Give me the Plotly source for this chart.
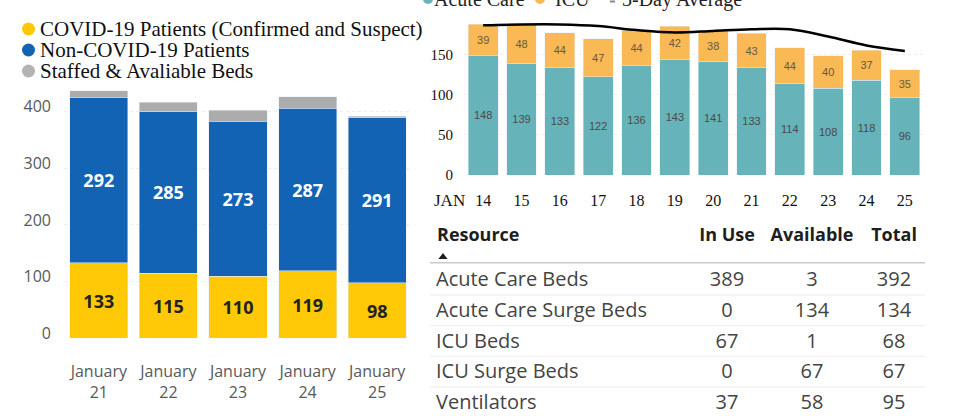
import plotly.graph_objects as go

# ---------------- data ----------------
left_days = ["January<br>21", "January<br>22", "January<br>23", "January<br>24", "January<br>25"]
covid_pts = [133, 115, 110, 119, 98]
noncovid_pts = [292, 285, 273, 287, 291]
staffed_avail = [12, 16, 19, 20, 3]

right_days = ["14", "15", "16", "17", "18", "19", "20", "21", "22", "23", "24", "25"]
acute_care = [148, 139, 133, 122, 136, 143, 141, 133, 114, 108, 118, 96]
icu = [39, 48, 44, 47, 44, 42, 38, 43, 44, 40, 37, 35]
avg_3day = [186, 187, 187, 185, 180, 177, 179, 181, 181, 172, 161, 154]

table_header = ["Resource", "In Use", "Available", "Total"]
resources = ["Acute Care Beds", "Acute Care Surge Beds", "ICU Beds", "ICU Surge Beds", "Ventilators"]
in_use = [389, 0, 67, 0, 37]
available = [3, 134, 1, 67, 58]
total = [392, 134, 68, 67, 95]

left_legend = ["COVID-19 Patients (Confirmed and Suspect)", "Non-COVID-19 Patients", "Staffed &amp; Avaliable Beds"]
right_legend = ["Acute Care", "ICU", "3-Day Average"]

# ---------------- style ----------------
W, H = 976, 416
YELLOW = "#ffc907"
BLUE = "#1363b5"
GRAY = "#acacac"
TEAL = "#66b4ba"
ORANGE = "#f9b955"
SANS = "Open Sans, sans-serif"
SERIF = "Liberation Serif, serif"

def px_x(p):
    return p / W

def px_y(p):
    return 1 - p / H

fig = go.Figure()

# ---- left stacked bars ----
fig.add_trace(go.Bar(x=left_days, y=covid_pts, marker_color=YELLOW, texttemplate="%{y}",
                     textposition="inside", insidetextanchor="middle", textangle=0,
                     textfont=dict(family=SANS, size=18, color="#222222", weight="bold"),
                     constraintext="none", xaxis="x", yaxis="y", showlegend=False, width=0.835))
fig.add_trace(go.Bar(x=left_days, y=noncovid_pts, marker_color=BLUE, texttemplate="%{y}",
                     textposition="inside", insidetextanchor="middle", textangle=0,
                     textfont=dict(family=SANS, size=18, color="white", weight="bold"),
                     constraintext="none", xaxis="x", yaxis="y", showlegend=False, width=0.835))
fig.add_trace(go.Bar(x=left_days, y=staffed_avail, marker_color=GRAY, textposition="none",
                     xaxis="x", yaxis="y", showlegend=False, width=0.835))

# ---- right stacked bars ----
fig.add_trace(go.Bar(x=right_days, y=acute_care, marker_color=TEAL, texttemplate="%{y}",
                     textposition="inside", insidetextanchor="middle", textangle=0,
                     textfont=dict(family="Liberation Sans, sans-serif", size=11, color="#4a4a4a"),
                     constraintext="none", xaxis="x2", yaxis="y2", showlegend=False, width=0.78))
fig.add_trace(go.Bar(x=right_days, y=icu, marker_color=ORANGE, texttemplate="%{y}",
                     textposition="inside", insidetextanchor="middle", textangle=0,
                     textfont=dict(family="Liberation Sans, sans-serif", size=11, color="#6b5a3e"),
                     constraintext="none", xaxis="x2", yaxis="y2", showlegend=False, width=0.78))
fig.add_trace(go.Scatter(x=right_days, y=avg_3day, mode="lines",
                         line=dict(color="black", width=2.5, shape="spline"),
                         xaxis="x2", yaxis="y2", showlegend=False, cliponaxis=False))

# ---- table (drawn on its own axes) ----
col_widths = [255, 84, 86, 78]
starts = [sum(col_widths[:i]) for i in range(len(col_widths))]
centers = [s + w / 2 for s, w in zip(starts, col_widths)]
name_x = 6
rows = list(range(len(resources)))
header_row = -1.45

fig.add_trace(go.Scatter(x=[name_x] * len(resources), y=rows, text=resources, mode="text",
                         textposition="middle right",
                         textfont=dict(family=SANS, size=20, color="#444444"),
                         xaxis="x3", yaxis="y3", showlegend=False, cliponaxis=False))
for ci, vals in zip([1, 2, 3], [in_use, available, total]):
    fig.add_trace(go.Scatter(x=[centers[ci]] * len(vals), y=rows, text=[str(v) for v in vals],
                             mode="text", textposition="middle center",
                             textfont=dict(family=SANS, size=20, color="#444444"),
                             xaxis="x3", yaxis="y3", showlegend=False, cliponaxis=False))
fig.add_trace(go.Scatter(x=[name_x + 1], y=[header_row], text=[table_header[0]], mode="text",
                         textposition="middle right",
                         textfont=dict(family=SANS, size=18, color="#1e1e1e", weight="bold"),
                         xaxis="x3", yaxis="y3", showlegend=False, cliponaxis=False))
fig.add_trace(go.Scatter(x=centers[1:], y=[header_row] * 3, text=table_header[1:], mode="text",
                         textposition="middle center",
                         textfont=dict(family=SANS, size=18, color="#1e1e1e", weight="bold"),
                         xaxis="x3", yaxis="y3", showlegend=False, cliponaxis=False))
fig.add_trace(go.Scatter(x=[13], y=[-0.79], mode="markers",
                         marker=dict(symbol="triangle-up", size=8, color="#1e1e1e"),
                         xaxis="x3", yaxis="y3", showlegend=False, cliponaxis=False))

shapes = []
shapes.append(dict(type="line", xref="x3", yref="y3", x0=0, x1=495, y0=-0.606, y1=-0.606,
                   line=dict(color="#c9c9c9", width=1.5)))
for r in rows[:-1]:
    shapes.append(dict(type="line", xref="x3", yref="y3", x0=0, x1=495, y0=r + 0.45, y1=r + 0.45,
                       line=dict(color="#ececec", width=1)))

# ---- legends (circles + text) ----
annotations = []
left_colors = [YELLOW, BLUE, "#b3b3b3"]
left_leg_y = [29, 50, 71]
for txt, col, yy in zip(left_legend, left_colors, left_leg_y):
    shapes.append(dict(type="circle", xref="paper", yref="paper",
                       x0=px_x(22), x1=px_x(35), y0=px_y(yy + 6.5), y1=px_y(yy - 6.5),
                       fillcolor=col, line=dict(width=0)))
    annotations.append(dict(text=txt, x=px_x(38), y=px_y(yy), xref="paper", yref="paper",
                            xanchor="left", yanchor="middle", showarrow=False,
                            font=dict(family=SERIF, size=21, color="#111111")))

# right legend (cut off at top)
rl_dot_x = [428, 540]
rl_cols = [TEAL, ORANGE]
for cx, col in zip(rl_dot_x, rl_cols):
    shapes.append(dict(type="circle", xref="paper", yref="paper",
                       x0=px_x(cx - 5), x1=px_x(cx + 5), y0=px_y(4), y1=px_y(-6),
                       fillcolor=col, line=dict(width=0)))
shapes.append(dict(type="line", xref="paper", yref="paper", x0=px_x(610), x1=px_x(615),
                   y0=px_y(1.5), y1=px_y(1.5), line=dict(color="#888888", width=2)))
for txt, xx in zip(right_legend, [432, 553, 620]):
    annotations.append(dict(text=txt, x=px_x(xx), y=1, xref="paper", yref="paper",
                            xanchor="left", yanchor="middle", yshift=1, showarrow=False,
                            font=dict(family=SERIF, size=20, color="#222222")))

annotations.append(dict(text="JAN", x=px_x(449), y=px_y(200), xref="paper", yref="paper",
                        xanchor="center", yanchor="middle", showarrow=False,
                        font=dict(family=SERIF, size=17, color="#111111")))

fig.update_layout(
    width=W, height=H, margin=dict(l=0, r=0, t=0, b=0, autoexpand=False),
    paper_bgcolor="white", plot_bgcolor="white",
    barmode="stack",
    xaxis=dict(domain=[px_x(64), px_x(412)], showgrid=False, ticks="", showline=False, automargin=False,
               tickfont=dict(family=SANS, size=16, color="#595959"), ticklabelstandoff=22),
    yaxis=dict(domain=[px_y(338.4), px_y(83.2)], range=[0, 450], tickvals=[0, 100, 200, 300, 400],
               showgrid=True, gridcolor="#ececec", griddash="dot", zeroline=False, ticks="",
               automargin=False,
               tickfont=dict(family=SANS, size=16, color="#595959"), ticklabelstandoff=12,
               ticklabelshift=-5),
    xaxis2=dict(domain=[px_x(464), px_x(924)], anchor="y2", showgrid=False, ticks="", showline=False,
                automargin=False,
                tickfont=dict(family=SERIF, size=16, color="#111111"), ticklabelstandoff=14),
    yaxis2=dict(domain=[px_y(175), px_y(14)], range=[0, 200], anchor="x2",
                tickvals=[0, 50, 100, 150], showgrid=True, gridcolor="#ececec", griddash="dot",
                zeroline=False, ticks="", automargin=False,
                tickfont=dict(family=SERIF, size=15, color="#111111"), ticklabelstandoff=10),
    xaxis3=dict(domain=[px_x(430), px_x(925)], range=[0, 495], anchor="y3", visible=False,
                automargin=False),
    yaxis3=dict(domain=[0, px_y(220)], range=[4.4, -2], anchor="x3", visible=False,
                automargin=False),
    shapes=shapes, annotations=annotations,
)

fig.write_html("out.html", config={"displayModeBar": False},
               post_script="document.body.style.margin='0';document.body.style.overflow='hidden';")
